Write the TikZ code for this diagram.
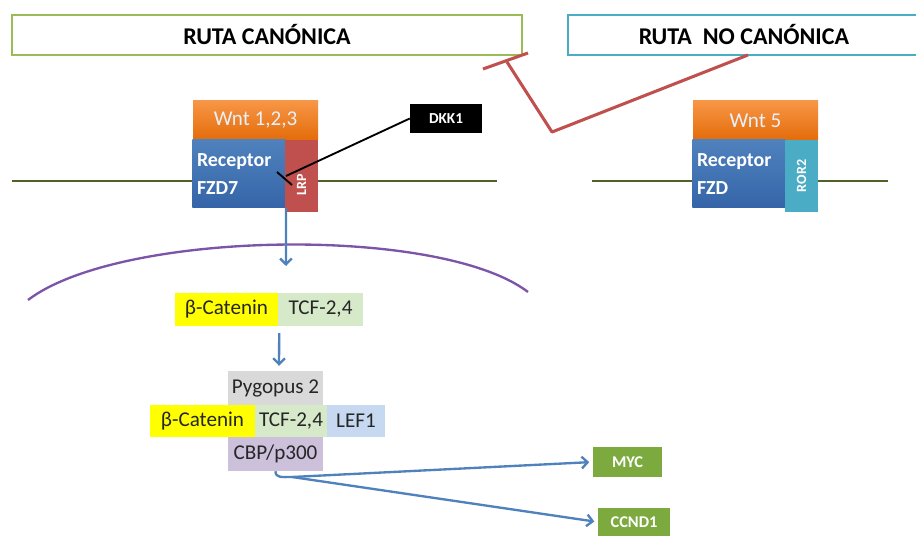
\documentclass[tikz,border=0pt]{standalone}
\usepackage{fontspec}
\setmainfont{Carlito}
\usepackage{tikz}
\usetikzlibrary{positioning}
\usetikzlibrary{arrows.meta,calc}
\definecolor{canongreen}{HTML}{9BBB59}
\definecolor{noncanblue}{HTML}{4BACC6}
\definecolor{inhibred}{HTML}{C0504D}
\definecolor{membrane}{HTML}{4F6228}
\definecolor{wntorange}{HTML}{F79646}
\definecolor{wntdark}{HTML}{E46C0A}
\definecolor{recblue}{HTML}{4F81BD}
\definecolor{recdark}{HTML}{3565A8}
\definecolor{lrpred}{HTML}{C0504D}
\definecolor{rorcyan}{HTML}{4BACC6}
\definecolor{nucpurple}{HTML}{7D55A8}
\definecolor{catyellow}{HTML}{FFFF00}
\definecolor{tcfgreen}{HTML}{D6E9C9}
\definecolor{pyggray}{HTML}{D9D9D9}
\definecolor{lefblue}{HTML}{C6D9F1}
\definecolor{cbplilac}{HTML}{CCC0DA}
\definecolor{genegreen}{HTML}{7DAA3F}
\definecolor{wnttext}{HTML}{E8F0FA}
\definecolor{factortext}{HTML}{262626}
\tikzstyle{title}=[rectangle,draw,line width=1.6pt,fill=white,font=\fontsize{20.5}{24}\selectfont\bfseries]
\tikzstyle{wnt}=[rectangle,top color=wntorange,bottom color=wntdark,text=wnttext,font=\fontsize{18}{21}\selectfont]
\tikzstyle{receptor}=[rectangle,top color=recblue,bottom color=recdark,text=white,align=left,font=\fontsize{17}{24}\selectfont\bfseries]
\tikzstyle{corec}=[rectangle,text=white,font=\fontsize{12}{14}\selectfont\bfseries]
\tikzstyle{factor}=[rectangle,inner sep=0pt,text=factortext,font=\fontsize{18}{21}\selectfont]
\tikzstyle{gene}=[rectangle,fill=genegreen,text=white,font=\fontsize{14}{16}\selectfont\bfseries]
\tikzstyle{edge}=[draw,recblue,line width=2pt,-{Straight Barb[length=5pt,width=10pt,line width=2pt]}]

\begin{document}
\begin{tikzpicture}[x=0.03cm,y=-0.03cm]
    \useasboundingbox (0,0) rectangle (916,536);
    % the two pathway headers
    \node[title,draw=canongreen,minimum width=510*0.03cm,minimum height=40*0.03cm] (canon) at (267,35) {RUTA CAN\'ONICA};
    \node[title,draw=noncanblue,minimum width=352*0.03cm,minimum height=40*0.03cm,anchor=west] (noncanon) at (567,35) {RUTA\ \ NO CAN\'ONICA};

    % membranes
    \draw[membrane,line width=2.2pt] (12,181) -- (497,181);
    \draw[membrane,line width=2.2pt] (592,181) -- (888,181);

    % ligands and receptors
    \foreach \pos/\name/\label in {{(255.5,120.5)/wnta/Wnt 1,2,3}, {(755.5,120.5)/wntb/Wnt 5}}
        \node[wnt,minimum width=125*0.03cm,minimum height=39*0.03cm] (\name) at \pos {\label};
    \foreach \pos/\name/\label in {{(239,174)/fzda/Receptor\\FZD7}, {(739,174)/fzdb/Receptor\\FZD}}
        \node[receptor,minimum width=92*0.03cm,minimum height=68*0.03cm,text width=84*0.03cm,inner sep=4pt] (\name) at \pos {\label};
    \node[corec,fill=lrpred,minimum width=72*0.03cm,minimum height=33*0.03cm,rotate=90] (lrp) at (301.5,176) {\hspace*{-0.5cm}LRP};
    \node[corec,fill=rorcyan,minimum width=72*0.03cm,minimum height=33*0.03cm,rotate=90] (ror) at (801.5,176) {ROR2};
    \node[rectangle,fill=black,text=white,font=\fontsize{13}{15}\selectfont\bfseries,minimum width=72*0.03cm,minimum height=29*0.03cm] (dkk) at (446,118.5) {DKK1};

    % inhibition lines
    \coordinate (dkkend) at (286,176);
    \coordinate (kink) at (552,132);
    \coordinate (stemtop) at (507,62);
    \coordinate (barl) at (483,69);
    \coordinate (barr) at (528,53);
    \coordinate (ncend) at (748,55);
    \draw[black,line width=1.6pt] (dkk.west) -- (dkkend);
    \draw[black,line width=1.6pt] (277,172) -- (292,185);
    \draw[inhibred,line width=2.6pt,line join=round] (ncend) -- (kink) -- (stemtop);
    \draw[inhibred,line width=2.6pt] (barl) -- (barr);

    % nuclear envelope
    \draw[nucpurple,line width=2pt] (28,300) .. controls (120,230) and (440,225) .. (528,292);

    % transcription complexes
    \foreach \pos/\name/\w/\h/\col/\label in {{(226.5,309.5)/bcata/103/33/catyellow/β-Catenin},
    {(320.5,309.5)/tcfa/85/33/tcfgreen/TCF-2,4},
    {(275.5,388)/pyg/95/34/pyggray/Pygopus 2},
    {(202.5,421)/bcatb/105/32/catyellow/β-Catenin},
    {(291,421)/tcfb/72/32/tcfgreen/TCF-2,4},
    {(356,421)/lef/58/32/lefblue/LEF1},
    {(275.5,454)/cbp/95/34/cbplilac/{CBP/p300}}}
        \node[factor,fill=\col,minimum width=\w*0.03cm,minimum height=\h*0.03cm] (\name) at \pos {\label};

    % target genes
    \node[gene,minimum width=69*0.03cm,minimum height=30*0.03cm] (myc) at (627.5,462) {MYC};
    \node[gene,minimum width=72*0.03cm,minimum height=28*0.03cm] (ccnd) at (634,522) {CCND1};

    % signalling arrows
    \coordinate (nucin) at (286,266);
    \coordinate (split) at (292,477);
    \path[edge] (fzda.south east) -- (nucin);
    \path[edge] ($(bcata.south east)+(1,7)$) -- ($(pyg.north)+(3.5,-5)$);
    \draw[recblue,line width=2pt] (cbp.south) .. controls +(0,7) and +(-10,0) .. (split);
    \path[edge,shorten >=3pt] (split) -- (myc.west);
    \path[edge,shorten >=3pt] (split) -- (ccnd.west);
\end{tikzpicture}
\end{document}
